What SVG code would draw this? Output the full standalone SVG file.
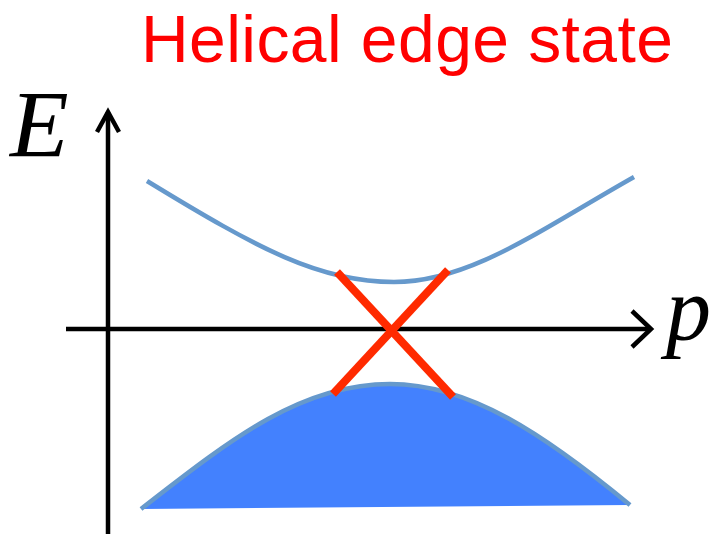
<svg xmlns="http://www.w3.org/2000/svg" width="718" height="534" viewBox="0 0 718 534">
<style>
.axis{stroke:#000;stroke-width:4.5;fill:none}
.band{stroke:#6699CC;stroke-width:4.5;fill:none;stroke-linecap:butt}
.edge{stroke:#FF2A00;stroke-width:8;stroke-linecap:butt}
.lbl{font-family:"Liberation Serif","Times New Roman",serif;font-style:italic;fill:#000}
</style>
<rect width="718" height="534" fill="#fff"/>
<text x="141" y="62" font-family="Liberation Sans, Arial, sans-serif" font-size="66" textLength="532" fill="#FF0000">Helical edge state</text>
<g id="valence-band">
<path d="M141,509 C230,440 300,384 390,384 C470,384 545,435 630,505 Z" fill="#4381FE" stroke="none"/>
<path d="M141,509 C230,440 300,384 390,384 C470,384 545,435 630,505" class="band"/>
</g>
<g id="conduction-band">
<path d="M147,181 C260,250 320,282 394,282 C470,282 540,230 634,177" class="band"/>
</g>
<g id="axes">
<line x1="108" y1="534" x2="108" y2="112" class="axis"/>
<polyline points="97,132 108,112 119,132" class="axis"/>
<line x1="66" y1="329" x2="651" y2="329" class="axis"/>
<polyline points="632,311 651,329 632,347" class="axis"/>
</g>
<g id="edge-states">
<line x1="337" y1="272" x2="453" y2="397" class="edge"/>
<line x1="448" y1="270" x2="333" y2="394" class="edge"/>
</g>
<text class="lbl" x="10" y="157" font-size="96">E</text>
<text class="lbl" x="666" y="340" font-size="90">p</text>
</svg>
